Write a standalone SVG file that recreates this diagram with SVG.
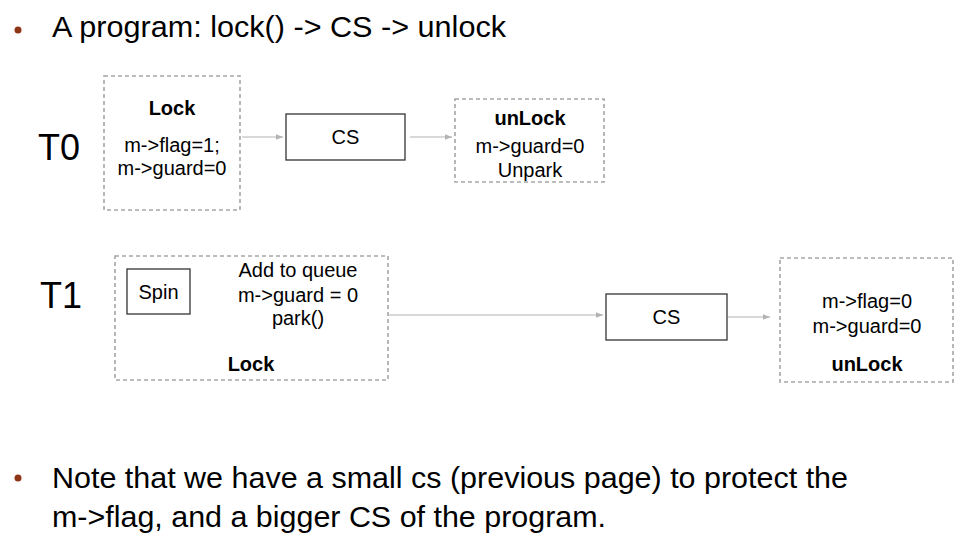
<svg xmlns="http://www.w3.org/2000/svg" width="968" height="536" viewBox="0 0 968 536">
<style>
  text { font-family: "Liberation Sans", Arial, sans-serif; fill: #000; }
  .big { font-size: 30px; }
  .lbl { font-size: 20px; text-anchor: middle; }
  .b { font-weight: bold; }
  .tn { font-size: 36px; }
  .dash { fill: #fff; stroke: #a6a6a6; stroke-width: 1.6; stroke-dasharray: 4 3; }
  .solid { fill: #fff; stroke: #333; stroke-width: 1.3; }
  .conn { stroke: #b3b3b3; stroke-width: 1.2; fill: none; marker-end: url(#ah); }
  .bullet { fill: #8e3517; }
</style>
<defs>
  <marker id="ah" viewBox="0 0 10 10" refX="10" refY="5" markerWidth="7" markerHeight="7" markerUnits="userSpaceOnUse" orient="auto">
    <path d="M0,1 L10,5 L0,9 z" fill="#b3b3b3"/>
  </marker>
</defs>
<rect width="968" height="536" fill="#fff"/>

<g id="title">
  <circle class="bullet" cx="18" cy="30" r="3.5"/>
  <text class="big" x="52" y="37" textLength="454" lengthAdjust="spacingAndGlyphs">A program: lock() -&gt; CS -&gt; unlock</text>
</g>

<g id="label-t0"><text class="tn" x="38" y="160">T0</text></g>
<g id="label-t1"><text class="tn" x="40" y="308">T1</text></g>

<g id="connectors">
  <line class="conn" x1="242" y1="137" x2="283" y2="137"/>
  <line class="conn" x1="410" y1="137" x2="452" y2="137"/>
  <line class="conn" x1="389" y1="315" x2="603" y2="315"/>
  <line class="conn" x1="728" y1="317" x2="770" y2="317"/>
</g>

<g id="t0-lock">
  <rect class="dash" x="104" y="76" width="136" height="134"/>
  <text class="lbl b" x="172" y="115">Lock</text>
  <text class="lbl" x="172" y="152">m-&gt;flag=1;</text>
  <text class="lbl" x="172" y="175">m-&gt;guard=0</text>
</g>

<g id="t0-cs">
  <rect class="solid" x="286" y="114" width="119" height="46"/>
  <text class="lbl" x="345.5" y="144">CS</text>
</g>

<g id="t0-unlock">
  <rect class="dash" x="455" y="99" width="149" height="83"/>
  <text class="lbl b" x="530" y="125">unLock</text>
  <text class="lbl" x="530" y="153">m-&gt;guard=0</text>
  <text class="lbl" x="530" y="177">Unpark</text>
</g>

<g id="t1-lock">
  <rect class="dash" x="115" y="256" width="273" height="124"/>
  <text class="lbl" x="298" y="277">Add to queue</text>
  <text class="lbl" x="298" y="302">m-&gt;guard = 0</text>
  <text class="lbl" x="298" y="325">park()</text>
  <text class="lbl b" x="251" y="371">Lock</text>
</g>

<g id="t1-spin">
  <rect class="solid" x="127" y="269" width="63" height="45"/>
  <text class="lbl" x="158.5" y="299">Spin</text>
</g>

<g id="t1-cs">
  <rect class="solid" x="606" y="294" width="121" height="46"/>
  <text class="lbl" x="666.5" y="324">CS</text>
</g>

<g id="t1-unlock">
  <rect class="dash" x="780" y="258" width="173" height="124"/>
  <text class="lbl" x="867" y="308">m-&gt;flag=0</text>
  <text class="lbl" x="867" y="333">m-&gt;guard=0</text>
  <text class="lbl b" x="867" y="371">unLock</text>
</g>

<g id="note">
  <circle class="bullet" cx="18" cy="478" r="3.5"/>
  <text class="big" x="52" y="488" textLength="796" lengthAdjust="spacingAndGlyphs">Note that we have a small cs (previous page) to protect the</text>
  <text class="big" x="52" y="527" textLength="554" lengthAdjust="spacingAndGlyphs">m-&gt;flag, and a bigger CS of the program.</text>
</g>
</svg>
